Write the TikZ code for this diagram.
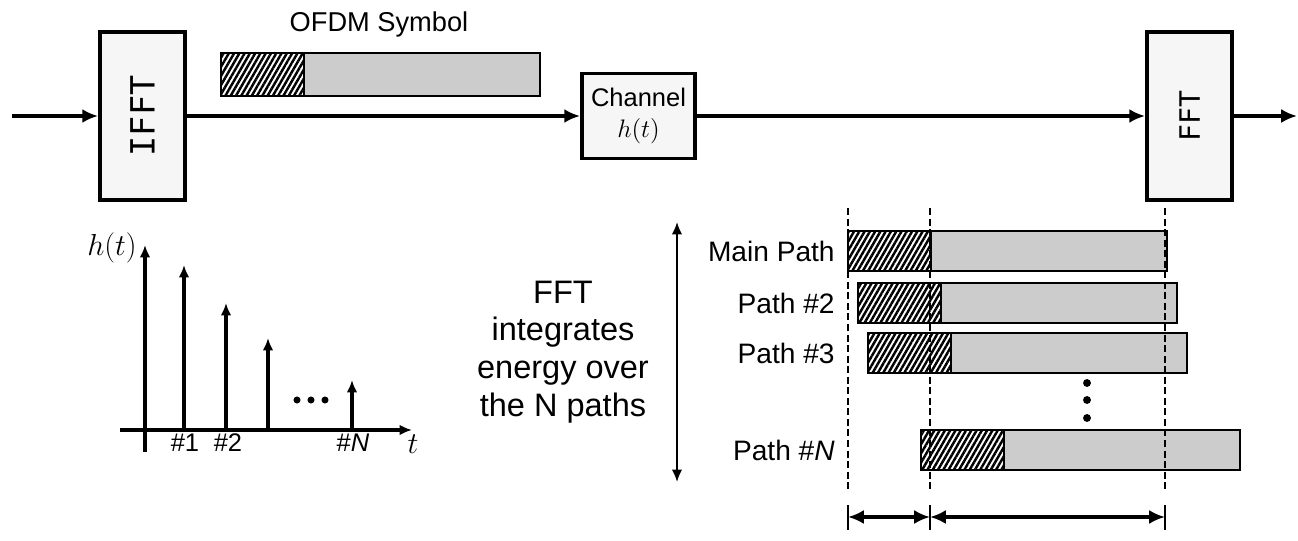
\documentclass[tikz,border=0pt]{standalone}
\usepackage{fontspec}
\setmainfont{Liberation Sans}
\setmonofont{DejaVu Sans Mono}
\usetikzlibrary{arrows.meta,positioning,patterns.meta}
\definecolor{boxgray}{RGB}{246,246,246}
\definecolor{bargray}{RGB}{204,204,204}

\begin{document}
\begin{tikzpicture}[
    x=0.2mm,y=-0.2mm,
    every node/.style={font=\fontsize{16}{19}\selectfont},
    block/.style={rectangle,draw,line width=2.2pt,fill=boxgray,inner sep=0pt},
    sig/.style={-{Latex[length=9pt,width=8pt]},line width=2.2pt},
    cp/.style={rectangle,draw,line width=1pt,minimum width=1.66cm,minimum height=0.8cm,inner sep=0pt,outer sep=0pt,
        preaction={fill=white},pattern={Lines[angle=60,distance=2.6pt,line width=1.4pt]}},
    body/.style={rectangle,draw,line width=1pt,fill=bargray,minimum width=4.72cm,minimum height=0.8cm,inner sep=0pt,outer sep=0pt},
    plabel/.style={anchor=east,inner sep=0pt},
    idx/.style={font=\fontsize{14.5}{17}\selectfont},
    axis/.style={-{Latex[length=7pt,width=6pt]},line width=1.8pt},
    stem/.style={-{Latex[length=7pt,width=6pt]},line width=1.8pt},
    guide/.style={line width=1.4pt,dash pattern=on 4pt off 2pt},
    dim/.style={{Latex[length=9pt,width=8pt]}-{Latex[length=9pt,width=8pt]},line width=2.8pt},
    tickmark/.style={line width=1.6pt},
    dot/.style={circle,fill,inner sep=0pt,minimum size=4.5pt}
]
\useasboundingbox (0,0) rectangle (1298,541);

% Transmission chain
\coordinate (in) at (12,116);
\node[block,minimum width=1.7cm,minimum height=3.36cm] (ifft) at (142.5,116)
    {\rotatebox{90}{\fontsize{19}{19}\selectfont\ttfamily IFFT}};
\node[block,minimum width=2.26cm,minimum height=1.7cm,align=center,font=\fontsize{14.5}{18}\selectfont] (chan) at (638.5,116)
    {Channel\\$h(t)$};
\node[block,minimum width=1.7cm,minimum height=3.36cm] (fft) at (1189.5,116)
    {\rotatebox{90}{\fontsize{16}{16}\selectfont\ttfamily FFT}};
\coordinate (out) at (1297,116);

\draw[sig] (in) -- (ifft);
\draw[sig] (ifft) -- (chan);
\draw[sig] (chan) -- (fft);
\draw[sig] (fft) -- (out);

% OFDM symbol
\node[cp,minimum height=0.86cm,anchor=north west] (cp0) at (221,53) {};
\node[body,minimum height=0.86cm,anchor=west] (sym0) at (cp0.east) {};
\node[font=\fontsize{15.5}{18}\selectfont] (symlbl) at (379,24) {OFDM Symbol};

% Channel impulse response
\draw[axis] (145,452) -- (145,245);
\draw[axis] (120,430) -- (412,430);
\foreach \x/\top in {184/265,226/303,268/338,352/380}
    \draw[stem] (\x,430) -- (\x,\top);
\node (hlbl) at (112,248) {$h(t)$};
\node (tlbl) at (413,444) {$t$};
\node[idx] (n1) at (185,443) {\#1};
\node[idx] (n2) at (228,443) {\#2};
\node[idx] (nN) at (353,443) {\#\textit{N}};
\foreach \x in {297,311,325}
    \node[dot,minimum size=4pt] at (\x,400) {};

% FFT integration note
\coordinate (vtop) at (677,222);
\coordinate (vbot) at (677,482);
\draw[{Latex[length=7pt,width=6pt]}-{Latex[length=7pt,width=6pt]},line width=1.2pt] (vtop) -- (vbot);
\node[align=center,font=\fontsize{18.5}{21.5}\selectfont] (note) at (563,352)
    {FFT\\integrates\\energy over\\the N paths};

% Received paths
\foreach \s/\y/\n/\txt in {0/231/1/Main Path,10/283/2/Path \#2,20/333/3/Path \#3,73/430/4/Path \#\textit{N}}{
    \node[cp,anchor=north west] (cp\n) at (848+\s,\y) {};
    \node[body,anchor=west] (sym\n) at (cp\n.east) {};
    \node[plabel] (lbl\n) at (835,\y+20) {\txt};
}
\foreach \y in {383,400,418}
    \node[dot] at (1087,\y) {};

% Guide lines
\foreach \i/\x in {1/848,2/930,3/1165}{
    \coordinate (g\i t) at (\x,208);
    \coordinate (g\i b) at (\x,492);
    \draw[guide] (g\i t) -- (g\i b);
    \coordinate (m\i) at (\x,517);
    \draw[tickmark] (m\i) ++(0,-12) -- ++(0,25);
}
\draw[dim] (m1) -- (m2);
\draw[dim] (m2) -- (m3);

\end{tikzpicture}
\end{document}
